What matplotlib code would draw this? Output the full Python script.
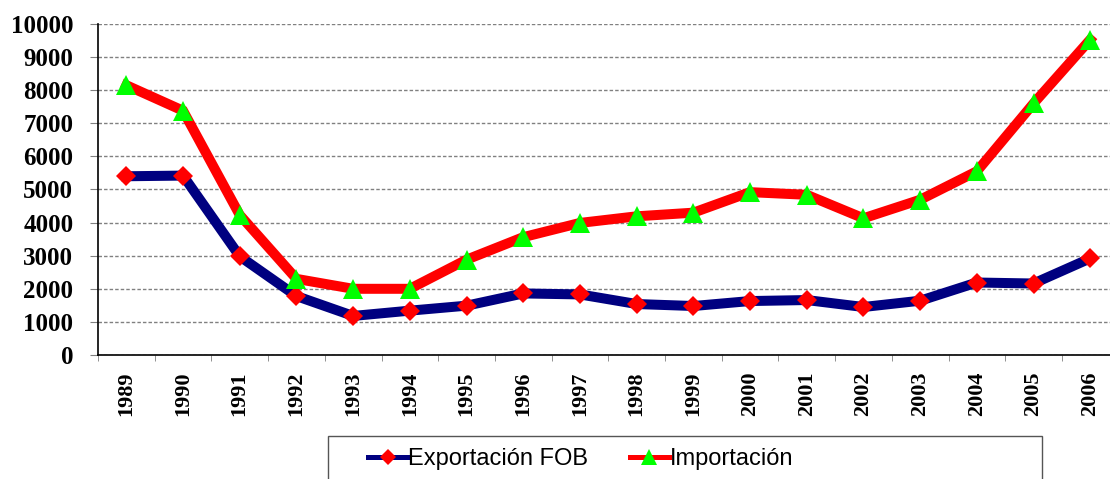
import matplotlib
matplotlib.use('Agg')
import matplotlib.pyplot as plt
from matplotlib.patches import Rectangle
import numpy as np

years = ['1989', '1990', '1991', '1992', '1993', '1994', '1995', '1996', '1997',
         '1998', '1999', '2000', '2001', '2002', '2003', '2004', '2005', '2006']
exportacion = [5400, 5420, 2980, 1780, 1180, 1340, 1490, 1860, 1830,
               1540, 1480, 1630, 1660, 1450, 1640, 2190, 2160, 2920]
importacion = [8150, 7380, 4230, 2300, 2000, 2000, 2880, 3560, 3990,
               4190, 4300, 4920, 4840, 4130, 4690, 5550, 7600, 9530]

fig = plt.figure(figsize=(11.10, 4.79), dpi=100)
ax = fig.add_axes([98 / 1110, 1 - 355 / 479, 1020.6 / 1110, 331 / 479])

x = np.arange(len(years))
ax.plot(x, exportacion, color='#000080', lw=7.2, marker='D', ms=10,
        mfc='#ff0000', mec='#ff0000', mew=0, label='Exportación FOB',
        solid_joinstyle='miter', zorder=3)
ax.plot(x, importacion, color='#ff0000', lw=7.2, marker='^', ms=14.5,
        mfc='#00ff00', mec='#00ff00', mew=0, label='Importación',
        solid_joinstyle='miter', zorder=3)

ax.set_xlim(-0.5, len(years) - 0.5)
ax.set_ylim(0, 10000)
ax.set_yticks(np.arange(0, 10001, 1000))
ax.set_yticklabels([str(v) for v in range(0, 10001, 1000)],
                   family='Liberation Serif', fontweight='bold', fontsize=18)
ax.tick_params(axis='y', length=5.8, color='#808080', pad=12)

ax.set_xticks(x)
ax.set_xticklabels(years, rotation=90, family='Liberation Serif',
                   fontweight='bold', fontsize=16)
ax.set_xticks(np.arange(-0.5, len(years), 1), minor=True)
ax.tick_params(axis='x', which='major', length=0, pad=12)
ax.tick_params(axis='x', which='minor', length=4.5, color='#808080')

ax.grid(axis='y', color='#808080', lw=1, linestyle=(0, (2.5, 1.5)))
ax.set_axisbelow(True)
for side in ['top', 'right']:
    ax.spines[side].set_visible(False)
ax.spines['left'].set_linewidth(1.2)
ax.spines['bottom'].set_linewidth(1.2)

# legend frame runs off the bottom of the picture
fig.patches.append(Rectangle((328 / 1110, -0.05), 714 / 1110, 0.05 + (479 - 436) / 479,
                             transform=fig.transFigure, fill=False,
                             edgecolor='#555555', lw=1))
leg = fig.legend(loc='center left', bbox_to_anchor=(347 / 1110, 1 - 459 / 479),
                 ncol=2, frameon=False, prop={'family': 'Liberation Sans', 'size': 17},
                 handlelength=1.65, handletextpad=0.05, columnspacing=1.75)
for h in leg.legend_handles:
    h.set_linewidth(3.6)
leg.legend_handles[0].set_markersize(8)
leg.legend_handles[1].set_markersize(12)

fig.savefig('out.png', dpi=100)
